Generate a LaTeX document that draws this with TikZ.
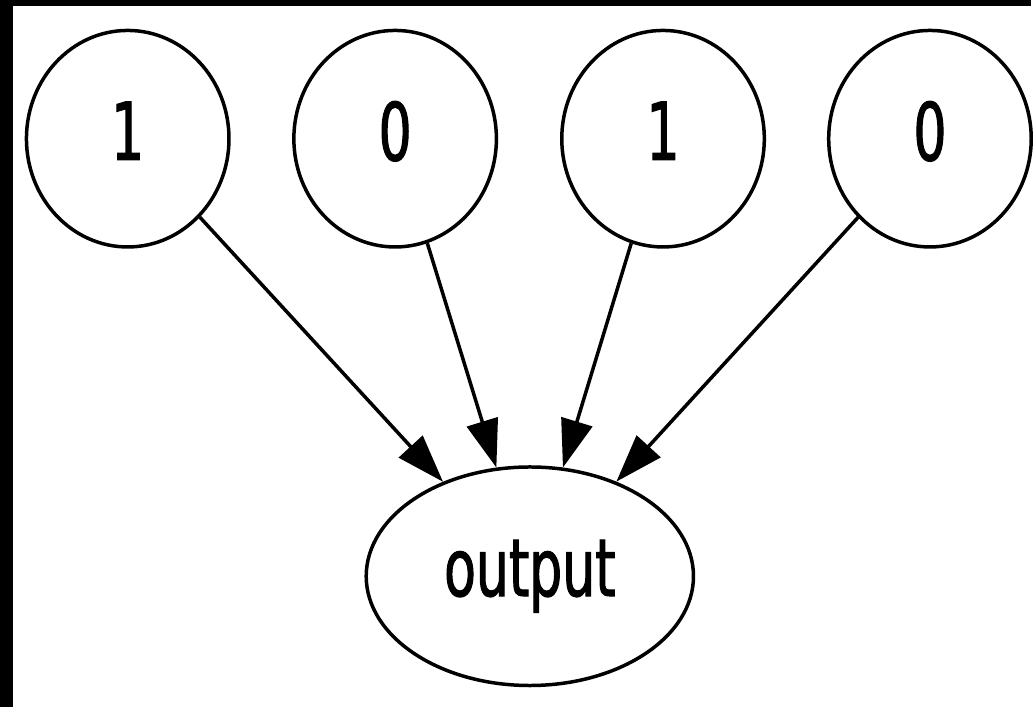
\documentclass[tikz,border=0pt]{standalone}
\usepackage{fontspec}
\newfontfamily\dotfont[FakeStretch=0.65, FakeBold=1.3]{DejaVu Sans}
\usetikzlibrary{shapes.geometric,arrows.meta}

\begin{document}
\begin{tikzpicture}[
    bit/.style={draw, ellipse, line width=0.035cm, inner sep=0pt,
        minimum width=2.03cm, minimum height=2.17cm, text depth=0.16cm,
        font=\dotfont\fontsize{22.8pt}{24pt}\selectfont},
    result/.style={draw, ellipse, line width=0.035cm, inner sep=0pt,
        minimum width=3.28cm, minimum height=2.19cm,
        font=\dotfont\fontsize{22.8pt}{24pt}\selectfont},
    feed/.style={line width=0.035cm, -{Triangle[length=0.48cm, width=0.32cm]}}
]

    % Background
    \fill[white] (0, 0) rectangle (10.33, 7.09);
    \fill[black] (0, 0) rectangle (0.13, 7.09);
    \fill[black] (0, 7.03) rectangle (10.33, 7.09);

    % Input bits
    \node[bit] (b1) at (1.28, 5.70) {1};
    \node[bit] (b2) at (3.96, 5.70) {0};
    \node[bit] (b3) at (6.645, 5.70) {1};
    \node[bit] (b4) at (9.32, 5.70) {0};

    % Output
    \node[result] (out) at (5.31, 1.315) {output};

    % Edges
    \draw[feed] (b1) -- (out);
    \draw[feed] (b2) -- (out);
    \draw[feed] (b3) -- (out);
    \draw[feed] (b4) -- (out);

\end{tikzpicture}
\end{document}
